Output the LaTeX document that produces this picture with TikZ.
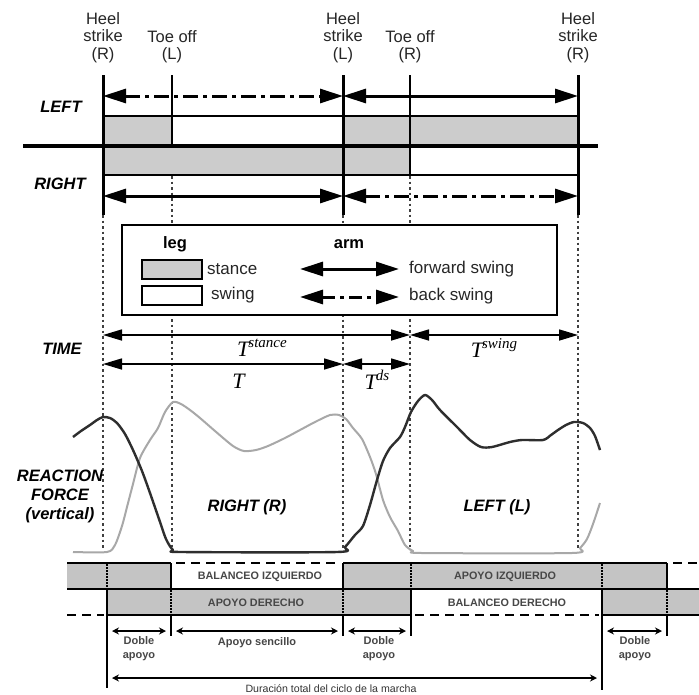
\documentclass[tikz,border=0pt]{standalone}
\usepackage{fontspec}
\setmainfont{Liberation Sans}
\newfontfamily\tserif{Liberation Serif}
\usetikzlibrary{arrows.meta}
\definecolor{stancegray}{gray}{0.80}
\definecolor{tablegray}{gray}{0.77}
\definecolor{lightcurve}{gray}{0.66}
\definecolor{darkcurve}{gray}{0.18}
\newcommand\Tlab[1]{{\tserif\itshape\fontsize{22}{22}\selectfont T\kern-1pt\raisebox{0.42em}{\fontsize{15}{15}\selectfont #1}}}
\begin{document}
\begin{tikzpicture}[x=1pt,y=-1pt,
  hdr/.style={font=\fontsize{16.5}{17.5}\selectfont, align=center, text=black!85, inner sep=0pt},
  sidelbl/.style={font=\fontsize{16.5}{19}\selectfont\bfseries\itshape, align=center, inner sep=0pt},
  leglbl/.style={font=\fontsize{17}{19}\selectfont, text=black!85, inner sep=0pt},
  heelline/.style={line width=3pt},
  toeline/.style={line width=1.2pt},
  vdots/.style={line width=1.8pt, black!75, dash pattern=on 2.5pt off 3pt},
  bigarrow/.style={line width=3pt, {Triangle[length=23pt,width=14pt]}-{Triangle[length=23pt,width=14pt]}},
  dashdot/.style={dash pattern=on 15pt off 5pt on 4pt off 5pt},
  timearrow/.style={line width=1.6pt, {Triangle[length=19pt,width=11pt]}-{Triangle[length=19pt,width=11pt]}},
  tline/.style={line width=2.4pt},
  tdash/.style={line width=2.4pt, dash pattern=on 9pt off 6pt},
  tv/.style={line width=1.8pt},
  tdot/.style={line width=1.6pt, dash pattern=on 1.5pt off 1.5pt},
  smallarrow/.style={line width=1.3pt, {Stealth[length=7pt,width=7pt]}-{Stealth[length=7pt,width=7pt]}},
  tbltext/.style={font=\fontsize{10.8}{12}\selectfont\bfseries, text=black!72, inner sep=0pt},
  smalltext/.style={font=\fontsize{11}{14}\selectfont\bfseries, text=black!72, align=center, inner sep=0pt}
]
\useasboundingbox (0,0) rectangle (699,694);
\fill[white] (0,0) rectangle (699,694);

% ---------- key positions ----------
\coordinate (hsR1) at (103,75);
\coordinate (toL) at (172,75);
\coordinate (hsL) at (343,75);
\coordinate (toR) at (410,75);
\coordinate (hsR2) at (578,75);

% ---------- headers ----------
\node[hdr] (h1) at (103,37.5) {Heel\\strike\\(R)};
\node[hdr] (h2) at (172,46.5) {Toe off\\(L)};
\node[hdr] (h3) at (343,37.5) {Heel\\strike\\(L)};
\node[hdr] (h4) at (410,46.5) {Toe off\\(R)};
\node[hdr] (h5) at (578,37.5) {Heel\\strike\\(R)};

% ---------- bars ----------
\fill[stancegray] (103,116) rectangle (172,146);
\fill[stancegray] (343,116) rectangle (578,146);
\fill[stancegray] (103,146) rectangle (410,175);
\draw[line width=2pt] (103,116) -- (578,116);
\draw[line width=2pt] (103,175) -- (578,175);

% vertical dotted continuation lines
\foreach \x in {103,343,578} \draw[vdots] (\x,215) -- (\x,548);
\draw[vdots] (172,176) -- (172,550);
\draw[vdots] (410,176) -- (410,550);

% toe off solid lines
\draw[toeline] (toL) -- (172,146);
\draw[toeline] (toR) -- (410,175);
% heel strike lines
\foreach \c in {hsR1,hsL,hsR2} \draw[heelline] (\c) -- ++(0,140);
% thick separator
\draw[line width=4.5pt] (23,146) -- (598,146);

% side labels
\node[sidelbl] (left) at (61,107) {LEFT};
\node[sidelbl] (right) at (60,184) {RIGHT};

% arm arrows
\draw[bigarrow, dashdot] (103,96) -- (343,96);
\draw[bigarrow] (343,96) -- (578,96);
\draw[bigarrow] (103,196) -- (343,196);
\draw[bigarrow, dashdot] (343,196) -- (578,196);

% ---------- legend ----------
\draw[line width=1.5pt, fill=white] (122,225) rectangle (557,315);
\node[leglbl, font=\fontsize{16.5}{19}\selectfont\bfseries, text=black] (leg) at (175,244) {leg};
\node[leglbl, font=\fontsize{16.5}{19}\selectfont\bfseries, text=black] (arm) at (349,244) {arm};
\draw[line width=1.5pt, fill=stancegray] (142,260) rectangle (202,279);
\draw[line width=1.5pt, fill=white] (142,286) rectangle (202,305);
\node[leglbl, anchor=west] (st) at (207,269) {stance};
\node[leglbl, anchor=west] (sw) at (211,295) {swing};
\draw[bigarrow] (300,269) -- (399,269);
\draw[bigarrow, dash pattern=on 13pt off 5pt on 4pt off 5pt] (300,297) -- (399,297);
\node[leglbl, anchor=west] (fs) at (409,269) {forward swing};
\node[leglbl, anchor=west] (bs) at (409,296) {back swing};

% ---------- time ----------
\node[sidelbl] (time) at (62,349) {TIME};
\draw[timearrow] (103,335) -- (410,335);
\draw[timearrow] (410,335) -- (578,335);
\draw[timearrow] (103,364) -- (343,364);
\draw[timearrow] (343,364) -- (410,364);
\node (tst) at (262,348) {\Tlab{stance}};
\node (tsw) at (494,348) {\Tlab{swing}};
\node (tt) at (238,381) {\Tlab{}};
\node (tds) at (377,380) {\Tlab{ds}};

% ---------- reaction force curves ----------
\draw[lightcurve, line width=2pt, line join=round] plot[smooth, tension=0.45] coordinates {
(73,552) (107,552) (115,545) (122,526) (127,507) (133,484) (140,458) (150,440) (158,428)
(165,412) (173,402) (181,404) (190,410) (200,418) (215,431) (233,446) (244,451) (256,450)
(268,446) (285,438) (300,430) (315,422) (330,415) (339,415) (346,419) (353,428) (362,439)
(370,457) (376,474) (383,500) (390,517) (398,531) (405,545) (413,551) (422,553) (572,553)
(580,548) (587,539) (593,524) (600,503)};
\draw[darkcurve, line width=2.4pt, line join=round] plot[smooth, tension=0.45] coordinates {
(73,437) (81,431) (90,425) (97,420) (103,417) (110,418) (117,423) (125,434) (133,450)
(142,471) (150,493) (159,519) (166,539) (173,550) (182,552) (337,552) (345,547) (355,535)
(363,526) (370,505) (377,480) (383,461) (390,448) (400,437) (405,427) (411,412) (418,401)
(425,395) (432,400) (440,410) (457,427) (470,440) (481,447) (492,447) (510,442) (522,440)
(543,440) (551,435) (558,430) (566,425) (574,422) (583,423) (590,428) (595,436) (600,450)};

\node[sidelbl] (rf) at (60,496) {REACTION\\FORCE\\(vertical)};
\node[sidelbl] (rr) at (247,507) {RIGHT (R)};
\node[sidelbl] (ll) at (497,507) {LEFT (L)};

% ---------- bottom table ----------
\fill[tablegray] (67,563) rectangle (171,589);
\fill[tablegray] (343,563) rectangle (667,589);
\fill[tablegray] (107,589) rectangle (411,615);
\fill[tablegray] (602,589) rectangle (699,615);
\draw[tline] (67,563) -- (171,563);
\draw[tline] (343,563) -- (667,563);
\draw[tdash] (176,563) -- (340,563);
\draw[tdash] (673,563) -- (699,563);
\draw[tline] (67,589) -- (699,589);
\draw[tline] (107,615) -- (411,615);
\draw[tline] (602,615) -- (699,615);
\draw[tdash] (67,615) -- (104,615);
\draw[tdash] (415,615) -- (599,615);

\draw[tdot] (107,564) -- (107,589);
\draw[tv] (107,589) -- (107,688);
\foreach \x in {171,343,667} {
  \draw[tv] (\x,563) -- (\x,589);
  \draw[tdot] (\x,590) -- (\x,614);
  \draw[tv] (\x,615) -- (\x,636);
}
\draw[tdot] (411,564) -- (411,589);
\draw[tv] (411,589) -- (411,636);
\draw[tdot] (602,564) -- (602,589);
\draw[tv] (602,589) -- (602,690);

\node[tbltext] (bi) at (260,577) {BALANCEO IZQUIERDO};
\node[tbltext] (ai) at (505,577) {APOYO IZQUIERDO};
\node[tbltext] (ad) at (256,603) {APOYO DERECHO};
\node[tbltext] (bd) at (507,603) {BALANCEO DERECHO};

\draw[smallarrow] (112,631) -- (166,631);
\draw[smallarrow] (176,631) -- (338,631);
\draw[smallarrow] (348,631) -- (406,631);
\draw[smallarrow] (607,631) -- (662,631);
\node[smalltext] (d1) at (139,649) {Doble\\apoyo};
\node[smalltext] (as) at (257,643) {Apoyo sencillo};
\node[smalltext] (d2) at (379,649) {Doble\\apoyo};
\node[smalltext] (d3) at (635,649) {Doble\\apoyo};
\draw[smallarrow] (112,678) -- (597,678);
\node[font=\fontsize{10.6}{12}\selectfont, text=black!80, inner sep=0pt] (dur) at (331,689) {Duración total del ciclo de la marcha};
\end{tikzpicture}
\end{document}
